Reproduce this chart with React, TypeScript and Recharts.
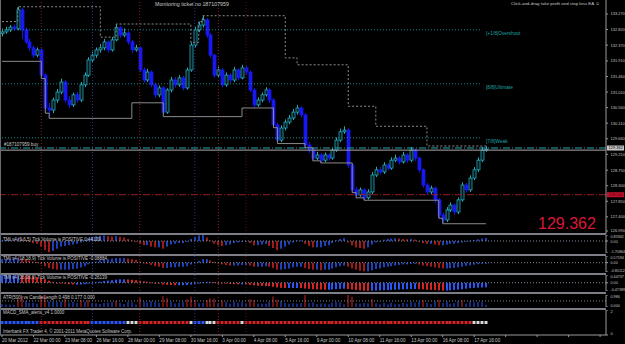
import React from 'react';
import { ComposedChart, Bar, Line, XAxis, YAxis, ReferenceLine } from 'recharts';

const FONT = '"Liberation Sans", Arial, sans-serif';
const SLOTS = 154;
const BLUE = '#2b55f5';
const RED = '#d42424';
const WHITE = '#d8d8d8';
const AXIS = '#9a9a9a';

// 4H candles, 20 Mar 2012 16:00 .. 17 Apr 2012
const opens = [
  132.70, 132.75, 132.81, 132.89, 132.84, 133.39, 132.81, 132.46, 132.29, 132.08,
  132.23, 131.50, 130.55, 130.49, 130.78, 131.01, 131.30, 130.78, 130.64, 130.93,
  130.78, 131.22, 131.50, 131.94, 132.08, 132.23, 132.29, 132.46, 132.23, 132.52,
  132.87, 132.66, 132.72, 132.46, 132.23, 132.29, 131.65, 131.36, 131.59, 131.22,
  130.93, 131.13, 130.43, 131.07, 131.36, 131.22, 131.42, 131.13, 131.65, 132.37,
  132.81, 132.95, 133.10, 132.66, 132.08, 131.50, 131.65, 131.22, 131.50, 131.36,
  131.65, 131.42, 131.71, 131.59, 131.07, 130.64, 130.78, 130.93, 131.07, 130.78,
  130.06, 129.62, 129.97, 130.14, 130.26, 130.43, 130.55, 130.35, 129.48, 129.33,
  129.10, 129.19, 129.04, 129.19, 129.10, 129.33, 129.62, 129.86, 129.91, 128.90,
  128.18, 128.03, 128.18, 127.95, 128.12, 128.61, 128.76, 128.70, 128.90, 128.81,
  129.04, 129.10, 128.99, 129.19, 129.04, 129.33, 129.10, 128.76, 128.32, 128.12,
  128.23, 127.89, 127.45, 127.31, 127.60, 127.74, 127.54, 127.89, 128.32, 128.18,
  128.52, 128.76, 129.04, 129.33,
];
const highs = [
  132.85, 132.90, 132.95, 132.97, 133.48, 133.45, 132.88, 132.55, 132.35, 132.30,
  132.28, 131.55, 130.70, 130.85, 131.10, 131.40, 131.35, 130.90, 131.00, 131.02,
  131.30, 131.58, 132.02, 132.18, 132.30, 132.40, 132.55, 132.50, 132.60, 132.98,
  132.92, 132.85, 132.78, 132.52, 132.38, 132.33, 131.72, 131.68, 131.64, 131.28,
  131.20, 131.18, 131.12, 131.45, 131.44, 131.50, 131.48, 131.72, 132.45, 132.90,
  133.05, 133.22, 133.15, 132.72, 132.12, 131.75, 131.70, 131.58, 131.56, 131.74,
  131.70, 131.80, 131.78, 131.64, 131.12, 130.86, 131.00, 131.15, 131.12, 130.84,
  130.12, 130.05, 130.22, 130.35, 130.52, 130.64, 130.60, 130.40, 129.56, 129.40,
  129.28, 129.25, 129.26, 129.24, 129.40, 129.70, 129.95, 130.02, 129.96, 128.95,
  128.26, 128.25, 128.22, 128.20, 128.70, 128.85, 128.84, 128.98, 128.95, 129.12,
  129.20, 129.16, 129.28, 129.24, 129.42, 129.38, 129.14, 128.80, 128.38, 128.30,
  128.28, 127.94, 127.52, 127.68, 127.82, 127.78, 127.96, 128.40, 128.38, 128.60,
  128.84, 129.12, 129.42, 129.45,
];
const lows = [
  132.62, 132.70, 132.75, 132.78, 132.80, 132.55, 132.40, 132.20, 132.00, 132.02,
  131.40, 130.40, 130.25, 130.40, 130.70, 130.95, 130.70, 130.55, 130.58, 130.70,
  130.72, 131.15, 131.45, 131.88, 132.00, 132.15, 132.22, 132.15, 132.18, 132.48,
  132.58, 132.60, 132.38, 132.15, 132.18, 131.58, 131.28, 131.30, 131.15, 130.85,
  130.86, 130.30, 130.38, 131.00, 131.14, 131.16, 131.06, 131.08, 131.60, 132.30,
  132.74, 132.88, 132.58, 132.00, 131.42, 131.44, 131.15, 131.16, 131.28, 131.30,
  131.35, 131.38, 131.50, 131.00, 130.55, 130.58, 130.72, 130.88, 130.70, 129.98,
  129.52, 129.56, 129.90, 130.08, 130.20, 130.36, 130.28, 129.40, 129.25, 129.02,
  129.04, 128.96, 128.98, 129.02, 129.05, 129.28, 129.56, 129.80, 128.82, 128.10,
  127.95, 127.98, 127.88, 127.90, 128.06, 128.55, 128.62, 128.64, 128.74, 128.76,
  128.98, 128.92, 128.94, 128.96, 128.98, 129.02, 128.68, 128.24, 128.04, 128.06,
  127.80, 127.36, 127.20, 127.25, 127.54, 127.46, 127.48, 127.84, 128.10, 128.12,
  128.46, 128.70, 128.98, 129.28,
];
const closes = [
  132.75, 132.81, 132.89, 132.84, 133.39, 132.81, 132.46, 132.29, 132.08, 132.23,
  131.50, 130.55, 130.49, 130.78, 131.01, 131.30, 130.78, 130.64, 130.93, 130.78,
  131.22, 131.50, 131.94, 132.08, 132.23, 132.29, 132.46, 132.23, 132.52, 132.87,
  132.66, 132.72, 132.46, 132.23, 132.29, 131.65, 131.36, 131.59, 131.22, 130.93,
  131.13, 130.43, 131.07, 131.36, 131.22, 131.42, 131.13, 131.65, 132.37, 132.81,
  132.95, 133.10, 132.66, 132.08, 131.50, 131.65, 131.22, 131.50, 131.36, 131.65,
  131.42, 131.71, 131.59, 131.07, 130.64, 130.78, 130.93, 131.07, 130.78, 130.06,
  129.62, 129.97, 130.14, 130.26, 130.43, 130.55, 130.35, 129.48, 129.33, 129.10,
  129.19, 129.04, 129.19, 129.10, 129.33, 129.62, 129.86, 129.91, 128.90, 128.18,
  128.03, 128.18, 127.95, 128.12, 128.61, 128.76, 128.70, 128.90, 128.81, 129.04,
  129.10, 128.99, 129.19, 129.04, 129.33, 129.10, 128.76, 128.32, 128.12, 128.23,
  127.89, 127.45, 127.31, 127.60, 127.74, 127.54, 127.89, 128.32, 128.18, 128.52,
  128.76, 129.04, 129.33, 129.362,
];

// TMI v4 histograms
const tmiFast = [
  0.1, 0.15, 0.2, 0.15, 0.4, 0.3, 0.1, -0.1, -0.3, -0.4,
  -0.8, -1.3, -1.6, -1.4, -1.1, -0.8, -0.7, -0.6, -0.5, -0.4,
  -0.2, 0.1, 0.4, 0.6, 0.7, 0.75, 0.8, 0.7, 0.65, 0.7,
  0.6, 0.5, 0.3, 0.1, -0.1, -0.4, -0.6, -0.6, -0.8, -0.9,
  -0.9, -1.1, -0.8, -0.5, -0.4, -0.3, -0.3, -0.1, 0.3, 0.6,
  0.8, 0.85, 0.5, 0.1, -0.4, -0.6, -0.7, -0.6, -0.5, -0.3,
  -0.2, -0.1, 0, -0.3, -0.6, -0.6, -0.5, -0.4, -0.7, -1.0,
  -1.3, -1.1, -0.8, -0.5, -0.2, 0.1, 0.1, -0.4, -0.7, -0.9,
  -0.9, -0.9, -0.7, -0.6, -0.3, 0.1, 0.3, 0.4, -0.2, -0.6,
  -0.9, -1.0, -1.1, -0.9, -0.5, -0.2, 0, 0.2, 0.3, 0.35,
  0.4, 0.35, 0.3, 0.25, 0.3, 0.2, -0.1, -0.3, -0.4, -0.4,
  -0.5, -0.6, -0.6, -0.5, -0.4, -0.4, -0.3, -0.2, -0.1, 0.05,
  0.15, 0.25, 0.35, 0.44,
];
const tmiMid = [
  0.3, 0.3, 0.35, 0.35, 0.4, 0.35, 0.3, 0.2, 0.1, 0.05,
  -0.1, -0.3, -0.45, -0.55, -0.6, -0.6, -0.6, -0.6, -0.55, -0.5,
  -0.4, -0.3, -0.15, 0, 0.1, 0.2, 0.3, 0.3, 0.35, 0.4,
  0.4, 0.4, 0.35, 0.3, 0.25, 0.1, 0, -0.1, -0.2, -0.3,
  -0.35, -0.45, -0.45, -0.4, -0.4, -0.35, -0.35, -0.3, -0.15, 0,
  0.15, 0.3, 0.3, 0.2, 0.05, -0.05, -0.15, -0.2, -0.25, -0.25,
  -0.25, -0.2, -0.2, -0.25, -0.35, -0.35, -0.35, -0.3, -0.35, -0.45,
  -0.6, -0.6, -0.55, -0.5, -0.4, -0.35, -0.35, -0.45, -0.55, -0.6,
  -0.6, -0.65, -0.6, -0.6, -0.5, -0.4, -0.3, -0.25, -0.35, -0.5,
  -0.6, -0.7, -0.75, -0.75, -0.65, -0.55, -0.5, -0.4, -0.35, -0.3,
  -0.25, -0.2, -0.15, -0.15, -0.1, -0.1, -0.15, -0.25, -0.3, -0.35,
  -0.4, -0.45, -0.5, -0.5, -0.48, -0.45, -0.4, -0.34, -0.28, -0.22,
  -0.17, -0.13, -0.1, -0.09,
];
const tmiSlow = [
  0.44, 0.44, 0.44, 0.44, 0.44, 0.43, 0.42, 0.4, 0.37, 0.33,
  0.28, 0.2, 0.12, 0.05, 0, -0.03, -0.06, -0.08, -0.1, -0.1,
  -0.1, -0.08, -0.05, -0.02, 0.02, 0.06, 0.1, 0.12, 0.15, 0.18,
  0.2, 0.2, 0.19, 0.17, 0.15, 0.12, 0.08, 0.05, 0.02, -0.02,
  -0.05, -0.1, -0.12, -0.13, -0.14, -0.14, -0.14, -0.13, -0.1, -0.06,
  -0.02, 0.03, 0.05, 0.05, 0.03, 0, -0.03, -0.05, -0.07, -0.08,
  -0.09, -0.09, -0.1, -0.12, -0.15, -0.17, -0.18, -0.19, -0.2, -0.23,
  -0.27, -0.29, -0.3, -0.3, -0.3, -0.3, -0.31, -0.33, -0.35, -0.37,
  -0.38, -0.39, -0.4, -0.4, -0.39, -0.37, -0.35, -0.34, -0.36, -0.39,
  -0.42, -0.44, -0.46, -0.47, -0.46, -0.45, -0.44, -0.43, -0.42, -0.41,
  -0.4, -0.39, -0.38, -0.37, -0.36, -0.36, -0.37, -0.38, -0.4, -0.41,
  -0.42, -0.44, -0.45, -0.45, -0.44, -0.42, -0.4, -0.37, -0.34, -0.31,
  -0.29, -0.28, -0.27, -0.26,
];

// MACD_SMA_alerts state as runs: [state, bars]  1 = blue, -1 = red, 0 = white
const macdRuns = [[1, 10], [-1, 13], [1, 9], [0, 3], [-1, 13], [0, 1], [1, 3], [0, 3], [-1, 6], [0, 1], [-1, 58], [0, 4]];

const dateLabels = [
  '20 Mar 2012', '22 Mar 00:00', '23 Mar 08:00', '26 Mar 16:00', '28 Mar 00:00', '29 Mar 08:00',
  '30 Mar 16:00', '3 Apr 00:00', '4 Apr 08:00', '5 Apr 16:00', '9 Apr 00:00', '10 Apr 08:00',
  '11 Apr 16:00', '13 Apr 00:00', '16 Apr 08:00', '17 Apr 16:00',
];
const priceTicks = [133.27, 132.82, 132.37, 131.91, 131.46, 131.01, 130.56, 130.11, 129.66, 129.21, 128.75, 128.30, 127.85, 127.40, 126.99];

// channel step lines: [bar, price] at change points
const upperBand = [[0, 133.05], [4, 133.48], [25, 132.6], [29, 132.98], [48, 132.45], [50, 133.05], [51, 133.22], [72, 132.0], [75, 131.8], [88, 130.6], [95, 130.02], [108, 129.45], [123, 129.45]];
const lowerBand = [[0, 131.9], [10, 131.4], [11, 130.4], [12, 130.25], [33, 130.7], [41, 130.3], [61, 130.55], [69, 129.98], [70, 129.52], [77, 129.4], [79, 129.02], [81, 128.96], [89, 128.1], [90, 127.95], [92, 127.88], [111, 127.36], [112, 127.2], [123, 127.2]];

const murrey = [
  { price: 132.8125, label: '[+1/8]Overshoot' },
  { price: 131.25, label: '[8/8]Ultimate' },
  { price: 129.6875, label: '[7/8]Weak' },
];
const separators = [
  { bar: 10, color: '#8a1c1c' },
  { bar: 23, color: '#22348e' },
  { bar: 35, color: '#8a1c1c' },
  { bar: 49, color: '#22348e' },
  { bar: 55, color: '#8a1c1c' },
  { bar: 62, color: '#5e1212' },
];
const BID = 129.362;
const ORDER = 129.33;
const STOP = 128.04;
const ATR_LEVEL = 0.498;

const macdStates = macdRuns.flatMap(([s, n]) => Array(n).fill(s));
const upMap = new Map(upperBand.map(([b, p]) => [b, p]));
const loMap = new Map(lowerBand.map(([b, p]) => [b, p]));
const slopeColor = (arr: number[], i: number) => (i > 0 && arr[i] < arr[i - 1] ? RED : BLUE);

const rows = Array.from({ length: SLOTS }, (_, i) => {
  const has = i < closes.length;
  const len = has ? +(highs[i] - lows[i]).toFixed(3) : null;
  return {
    i,
    range: has ? [lows[i], highs[i]] : null,
    o: has ? opens[i] : null,
    h: has ? highs[i] : null,
    l: has ? lows[i] : null,
    c: has ? closes[i] : null,
    up: upMap.has(i) ? upMap.get(i) : null,
    lo: loMap.has(i) ? loMap.get(i) : null,
    t1: has ? tmiFast[i] : null,
    t1c: has ? slopeColor(tmiFast, i) : null,
    t2: has ? tmiMid[i] : null,
    t2c: has ? slopeColor(tmiMid, i) : null,
    t3: has ? tmiSlow[i] : null,
    t3c: has ? slopeColor(tmiSlow, i) : null,
    len,
    lenc: len != null ? (len > ATR_LEVEL ? RED : BLUE) : null,
    m: has ? 1 : null,
    mc: has ? (macdStates[i] === 1 ? BLUE : macdStates[i] === -1 ? RED : WHITE) : null,
  };
});

const Candle = (p: any) => {
  const { x, y, width, height, payload } = p;
  if (!payload || payload.c == null || !isFinite(y) || !isFinite(height)) return <g />;
  const top = Math.min(y, y + height);
  const bot = Math.max(y, y + height);
  const span = payload.h - payload.l || 0.0001;
  const py = (v: number) => top + ((payload.h - v) / span) * (bot - top);
  const cx = Math.round(x + width / 2) + 0.5;
  const up = payload.c >= payload.o;
  const col = up ? '#27a9ba' : '#1818f2';
  const yo = py(payload.o);
  const yc = py(payload.c);
  const bt = Math.min(yo, yc);
  const bh = Math.max(Math.abs(yo - yc), 1);
  return (
    <g>
      <line x1={cx} x2={cx} y1={top} y2={bot} stroke={col} strokeWidth={1} />
      <rect x={cx - 1.5} y={bt} width={3} height={bh} fill={up ? '#03161a' : col} stroke={col} strokeWidth={0.8} />
    </g>
  );
};

const histShape = (colorKey: string, w: number) => (p: any) => {
  const { x, y, width, height, payload } = p;
  if (!payload || payload[colorKey] == null || !isFinite(y) || !isFinite(height)) return <g />;
  const top = Math.min(y, y + height);
  const h = Math.max(Math.abs(height), 0.8);
  const cx = Math.round(x + width / 2);
  return <rect x={cx - w / 2} y={top} width={w} height={h} fill={payload[colorKey]} />;
};

const Square = (p: any) => {
  const { x, y, width, payload } = p;
  if (!payload || payload.mc == null || !isFinite(y)) return <g />;
  const cx = Math.round(x + width / 2);
  return <rect x={cx - 1.5} y={y - 1.5} width={3} height={3} fill={payload.mc} />;
};

// axis label; edge values are pulled inside the panel so neighbouring panels don't collide
const makeTick = (fmt: (v: number) => string, domain?: number[], size = 4) => (p: any) => {
  const v = p.payload.value;
  let dy = 1.5;
  if (domain && v === domain[1]) dy = 3.3;
  if (domain && v === domain[0]) dy = -0.4;
  return (
    <text x={p.x + 0.5} y={p.y} dy={dy} fontSize={size} fill="#c4c4c4" fontFamily={FONT}>
      {fmt(v)}
    </text>
  );
};

const DateTick = (p: any) => {
  const lbl = dateLabels[p.payload.value / 8];
  if (!lbl) return <g />;
  return (
    <text x={p.x} y={p.y + 2.5} fontSize={4.6} fill="#c4c4c4" fontFamily={FONT}>
      {lbl}
    </text>
  );
};

const MurreyLabel = ({ viewBox, text }: any) =>
  viewBox ? (
    <text x={viewBox.x + viewBox.width + 4} y={viewBox.y + 5.5} fontSize={4.8} fill="#1fa3a3" fontFamily={FONT}>
      {text}
    </text>
  ) : null;

const AxisBox = ({ viewBox, text, bg, fg }: any) =>
  viewBox ? (
    <g>
      <rect x={viewBox.x + viewBox.width + 1} y={viewBox.y - 2.5} width={17} height={5} fill={bg} />
      <text x={viewBox.x + viewBox.width + 2.5} y={viewBox.y + 1.5} fontSize={4} fill={fg} fontFamily={FONT}>
        {text}
      </text>
    </g>
  ) : null;

const OrderLabel = ({ viewBox }: any) =>
  viewBox ? (
    <text x={viewBox.x + 4} y={viewBox.y - 4} fontSize={4.6} fill="#c8c8c8" fontFamily={FONT}>
      #187107959 buy
    </text>
  ) : null;

const vLines = () =>
  separators.map((s) => (
    <ReferenceLine key={s.bar} x={s.bar} stroke={s.color} strokeDasharray="1 2" />
  ));

const Txt = ({ left, top, size = 4.5, color = '#c8c8c8', children }: any) => (
  <div style={{ position: 'absolute', left, top, fontSize: size, color, fontFamily: FONT, whiteSpace: 'nowrap', lineHeight: 1 }}>
    {children}
  </div>
);

const Sep = ({ top, h = 1 }: any) => (
  <div style={{ position: 'absolute', left: 0, top, width: 606, height: h, background: '#7e7e86' }} />
);

const panel = (top: number, height: number, domain: number[], key: string, colorKey: string, w: number, zero: number | null, showZero: boolean) => (
  <div style={{ position: 'absolute', left: 0, top }}>
    <ComposedChart width={625} height={height} data={rows} margin={{ top: 0, right: 0, bottom: 0, left: 0 }}>
      <XAxis dataKey="i" hide />
      <YAxis
        orientation="right"
        width={19}
        domain={domain}
        ticks={showZero && zero != null ? domain.concat([zero]) : domain}
        interval={0}
        allowDataOverflow
        axisLine={{ stroke: AXIS }}
        tickLine={{ stroke: AXIS }}
        tickSize={2}
        tick={makeTick((v) => (v === 0 ? (key === 'len' ? '0.000' : '0.00') : v.toFixed(key === 'len' ? 3 : 5)), domain, 3.7)}
      />
      {vLines()}
      {zero != null && <ReferenceLine y={zero} stroke="#7d8a9a" strokeDasharray="1 2" />}
      <Bar dataKey={key} shape={histShape(colorKey, w)} isAnimationActive={false} />
    </ComposedChart>
  </div>
);

export default function App() {
  return (
    <div style={{ position: 'fixed', left: 0, top: 0, width: 625, height: 344, background: '#000', overflow: 'hidden' }}>
      <div style={{ position: 'absolute', left: 0, top: 0 }}>
        <ComposedChart width={625} height={234} data={rows} margin={{ top: 0, right: 0, bottom: 0, left: 0 }}>
          <XAxis dataKey="i" hide />
          <YAxis
            orientation="right"
            width={19}
            domain={[126.903, 133.675]}
            ticks={priceTicks}
            interval={0}
            allowDataOverflow
            axisLine={{ stroke: AXIS }}
            tickLine={{ stroke: AXIS }}
            tickSize={2}
            tick={makeTick((v) => v.toFixed(3))}
          />
          {vLines()}
          {murrey.map((m) => (
            <ReferenceLine
              key={m.label}
              segment={[{ x: 0, y: m.price }, { x: 122, y: m.price }]}
              stroke="#168d8d"
              strokeDasharray="1 2"
              label={<MurreyLabel text={m.label} />}
            />
          ))}
          <ReferenceLine y={ORDER} stroke="#a8a8a8" label={<OrderLabel />} />
          <ReferenceLine y={BID + 0.03} stroke="#22a8b2" strokeDasharray="7 2 1 2" label={<AxisBox text="129.362" bg="#c8c8c8" fg="#000" />} />
          <ReferenceLine y={STOP} stroke="#9a1a2a" strokeDasharray="7 2 1 2" label={<AxisBox text="128.040" bg="#c8102e" fg="#3a0008" />} />
          <Line dataKey="up" type="stepAfter" connectNulls stroke="#8a8a8a" strokeDasharray="2 2" strokeWidth={1} dot={false} isAnimationActive={false} />
          <Line dataKey="lo" type="stepAfter" connectNulls stroke="#8a8a8a" strokeWidth={1} dot={false} isAnimationActive={false} />
          <Bar dataKey="range" shape={<Candle />} isAnimationActive={false} />
        </ComposedChart>
      </div>

      {panel(235, 18, [-1.70864, 0.85942], 't1', 't1c', 1.5, 0, true)}
      {panel(256, 16, [-0.80112, 0.57194], 't2', 't2c', 1.5, 0, true)}
      {panel(275, 16, [-0.47389, 0.44737], 't3', 't3c', 2, 0, true)}
      {panel(295, 12, [0, 0.986], 'len', 'lenc', 1, ATR_LEVEL, false)}

      <div style={{ position: 'absolute', left: 0, top: 310 }}>
        <ComposedChart width={625} height={34} data={rows} margin={{ top: 0, right: 0, bottom: 0, left: 0 }}>
          <XAxis
            dataKey="i"
            interval={7}
            height={9}
            axisLine={{ stroke: AXIS }}
            tickLine={{ stroke: AXIS }}
            tickSize={2}
            tick={DateTick}
          />
          <YAxis
            orientation="right"
            width={19}
            domain={[0, 2]}
            ticks={[0, 2]}
            interval={0}
            axisLine={{ stroke: AXIS }}
            tickLine={{ stroke: AXIS }}
            tickSize={2}
            tick={makeTick((v) => String(v), [0, 2])}
          />
          {vLines()}
          <Bar dataKey="m" shape={<Square />} isAnimationActive={false} />
        </ComposedChart>
      </div>

      <Sep top={233} h={2} />
      <Sep top={254} h={2} />
      <Sep top={273} h={2} />
      <Sep top={292} h={2} />
      <Sep top={308} h={2} />
      <div style={{ position: 'absolute', left: 0, top: 0, width: 1, height: 335, background: '#6a6a72' }} />

      <Txt left={155} top={2} size={5.3}>Monitoring ticket no 187107959</Txt>
      <Txt left={511} top={2} size={4.4}>Click-and-drag take profit and stop loss EA ☺</Txt>
      <Txt left={538} top={216} size={16} color="#dc1538">129.362</Txt>

      <Txt left={3} top={238}>TMI v4 (6,6,5) Tick Volume is POSITIVE 0.44139</Txt>
      <Txt left={3} top={257}>TMI v4 (18,18,9) Tick Volume is POSITIVE -0.08884</Txt>
      <Txt left={3} top={276}>TMI v4 (36,36,9) Tick Volume is POSITIVE -0.26139</Txt>
      <Txt left={3} top={296}>ATR(500) vs CandleLength 0.498 0.177 0.000</Txt>
      <Txt left={3} top={311}>MACD_SMA_alerts_v4 1.0000</Txt>
      <Txt left={3} top={330}>Interbank FX Trader 4, © 2001-2011 MetaQuotes Software Corp.</Txt>
    </div>
  );
}
